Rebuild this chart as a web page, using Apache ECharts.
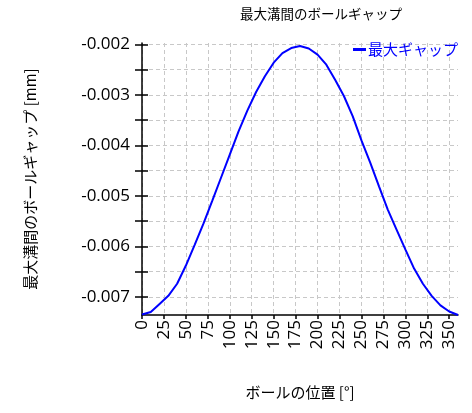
<!DOCTYPE html>
<html>
<head>
<meta charset="utf-8">
<script src="https://cdn.jsdelivr.net/npm/echarts@6/dist/echarts.min.js"></script>
<style>
html,body{margin:0;padding:0;background:#fff;}
#chart{width:472px;height:413px;}
</style>
</head>
<body>
<div id="chart"></div>
<script>
// ボール位置 [deg]
var positions = [0,10,20,30,40,50,60,70,80,90,100,110,120,130,140,150,160,170,180,
                 190,200,210,220,230,240,250,260,270,280,290,300,310,320,330,340,350,360];
// 最大ギャップ [mm]
var gapValues = [-0.00735,-0.0073,-0.00714,-0.00698,-0.00674,-0.00638,-0.00597,-0.00555,-0.0051,
                 -0.00464,-0.00418,-0.00372,-0.00331,-0.00294,-0.00263,-0.00236,-0.00217,-0.00207,-0.00203,
                 -0.00208,-0.0022,-0.0024,-0.0027,-0.00302,-0.00342,-0.0039,-0.00434,-0.00481,-0.00527,
                 -0.00567,-0.00606,-0.00644,-0.00674,-0.00698,-0.00717,-0.00729,-0.00736];
var xTicks = [0,25,50,75,100,125,150,175,200,225,250,275,300,325,350];
var yTicks = [-0.002,-0.0025,-0.003,-0.0035,-0.004,-0.0045,-0.005,-0.0055,-0.006,-0.0065,-0.007];
var yLabels = [-0.002,-0.003,-0.004,-0.005,-0.006,-0.007];

var pts = [];
for (var i = 0; i < positions.length; i++) {
    pts.push([positions[i], gapValues[i]]);
}

var font = '"Open Sans", "Noto Sans", sans-serif';
var jpFont = '"Noto Sans CJK JP", sans-serif';

var chart = echarts.init(document.getElementById('chart'));
var option = {
    animation: false,
    title: {
        text: '最大溝間のボールギャップ',
        left: 235,
        top: 2,
        textStyle: {fontFamily: jpFont, fontSize: 13.5, fontWeight: 'normal', color: '#000'}
    },
    legend: {
        data: ['最大ギャップ'],
        left: 348,
        top: 37,
        icon: 'rect',
        itemWidth: 13,
        itemHeight: 3,
        itemGap: 2,
        textStyle: {fontFamily: jpFont, fontSize: 15, color: '#0000ff', padding: [0,0,0,-3]}
    },
    grid: {left: 142, right: 14, top: 43, bottom: 98},
    xAxis: {
        type: 'value',
        min: 0,
        max: 360,
        name: 'ボールの位置 [°]',
        nameLocation: 'middle',
        nameGap: 70,
        nameTextStyle: {fontFamily: jpFont, fontSize: 15, color: '#000'},
        axisLine: {lineStyle: {color: '#000', width: 1.5}},
        axisTick: {customValues: xTicks, length: 4, lineStyle: {color: '#000', width: 1.5}},
        axisLabel: {customValues: xTicks, rotate: 90, fontFamily: font, fontSize: 17, color: '#000', margin: 5},
        splitLine: {show: true, lineStyle: {color: '#c8c8c8', type: [4, 3]}}
    },
    yAxis: [{
        type: 'value',
        min: -0.00736,
        max: -0.00197,
        name: '最大溝間のボールギャップ [mm]',
        nameLocation: 'middle',
        nameGap: 104,
        nameTextStyle: {fontFamily: jpFont, fontSize: 15, color: '#000'},
        axisLine: {show: true, lineStyle: {color: '#000', width: 1.5}},
        axisTick: {customValues: yTicks, length: 7, lineStyle: {color: '#000', width: 1.5}},
        axisLabel: {
            customValues: yLabels,
            fontFamily: font, fontSize: 17, color: '#000', margin: 12,
            formatter: function (v) { return v.toFixed(3); }
        },
        splitLine: {show: true, lineStyle: {color: '#c8c8c8', type: [4, 3]}}
    }, {
        // 内向きの目盛り
        type: 'value',
        position: 'left',
        min: -0.00736,
        max: -0.00197,
        axisLine: {show: false},
        axisTick: {show: true, inside: true, customValues: yTicks, length: 6, lineStyle: {color: '#000', width: 1.5}},
        axisLabel: {show: false},
        splitLine: {show: false}
    }],
    series: [{
        name: '最大ギャップ',
        type: 'line',
        data: pts,
        showSymbol: false,
        lineStyle: {color: '#0000ff', width: 2},
        itemStyle: {color: '#0000ff'}
    }]
};
chart.setOption(option);
</script>
</body>
</html>
